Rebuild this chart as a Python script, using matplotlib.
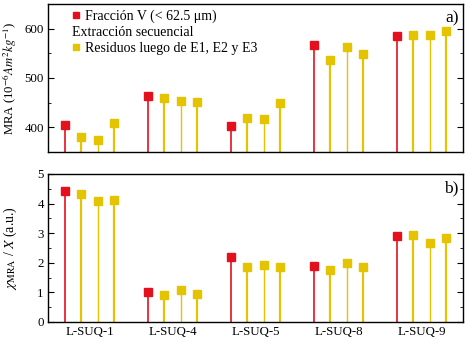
import numpy as np
import matplotlib
matplotlib.use("Agg")
import matplotlib.pyplot as plt
from matplotlib.lines import Line2D
from matplotlib.transforms import ScaledTranslation

plt.rcParams['font.family'] = ['Liberation Serif', 'DejaVu Serif']
plt.rcParams['mathtext.fontset'] = 'stix'

samples = ["L-SUQ-1", "L-SUQ-4", "L-SUQ-5", "L-SUQ-8", "L-SUQ-9"]
# MRA: [Fraccion V, E1, E2, E3]
mra_frac = [405, 464, 403, 566, 586]
mra_res = [[380, 374, 408],
           [459, 453, 451],
           [418, 416, 449],
           [537, 562, 549],
           [587, 588, 596]]
ratio_frac = [4.42, 1.01, 2.18, 1.90, 2.92]
ratio_res = [[4.32, 4.08, 4.13],
             [0.91, 1.08, 0.96],
             [1.86, 1.93, 1.86],
             [1.75, 1.99, 1.86],
             [2.94, 2.67, 2.84]]

RED = "#E5101E"
YEL = "#E4C300"
FS = 9.3
MS = 5.3

fig = plt.figure(figsize=(4.66, 3.42), dpi=100)
ax1 = fig.add_axes([48/466, 1-152/342, 415/466, 148/342])
ax2 = fig.add_axes([48/466, 1-322/342, 415/466, 148/342])

groups = np.arange(len(samples))
xf = groups * 5
xr = (groups * 5)[:, None] + np.arange(1, 4)[None, :]

res_lw = [1.6, 1.0, 1.6]

def draw(ax, frac, res, base):
    ax.vlines(xf, base, frac, color=RED, lw=1.2, zorder=2)
    res = np.asarray(res)
    for k in range(3):
        ax.vlines(xr[:, k], base, res[:, k], color=YEL, lw=res_lw[k], zorder=2)
    ax.plot(xf, frac, 's', color=RED, ms=MS, zorder=3, clip_on=False)
    ax.plot(xr.ravel(), res.ravel(), 's', color=YEL, ms=MS, zorder=3, clip_on=False)

draw(ax1, mra_frac, mra_res, 350)
draw(ax2, ratio_frac, ratio_res, 0)

for ax in (ax1, ax2):
    ax.set_xlim(-1, 24)
    ax.tick_params(axis='y', direction='in', which='both', left=True, right=True,
                   labelsize=FS, length=4, pad=3)
    ax.tick_params(axis='y', which='minor', length=2.5)
    ax.tick_params(axis='x', length=0, labelsize=FS, pad=3)
    for s in ax.spines.values():
        s.set_linewidth(1.0)

ax1.set_ylim(350, 650)
ax1.set_yticks([400, 500, 600])
ax1.set_yticks([350, 450, 550, 650], minor=True)
ax1.set_xticks([])
ax1.set_ylabel(r"MRA (10$^{-6}$$\mathit{Am}^2\mathit{kg}^{-1}$)", fontsize=9.2)
ax1.yaxis.set_label_coords(-0.071, 0.5)

ax2.set_ylim(0, 5)
ax2.set_yticks([0, 1, 2, 3, 4, 5])
ax2.set_yticks(np.arange(0.5, 5, 1.0), minor=True)
ax2.set_xticks(groups * 5 + 1.5)
ax2.set_xticklabels(samples)
ax2.set_ylabel(r"$\chi_{\mathrm{MRA}}$ / $X$ (a.u.)", fontsize=10)
ax2.yaxis.set_label_coords(-0.071, 0.5)

handles = [Line2D([], [], marker='s', color=RED, ls='none', ms=4.6),
           Line2D([], [], marker='none', ls='none'),
           Line2D([], [], marker='s', color=YEL, ls='none', ms=4.6)]
labels = ["Fracción V (< 62.5 μm)", "Extracción secuencial", "Residuos luego de E1, E2 y E3"]
HL, HTP = 0.55, 0.35
leg = ax1.legend(handles, labels, loc='upper left', bbox_to_anchor=(0.058, 0.96),
                 frameon=False, fontsize=10, handlelength=HL, handletextpad=HTP,
                 labelspacing=0.2, borderaxespad=0.0, borderpad=0.0)
# the middle entry has no marker: move its text back under the markers
mid = leg.get_texts()[1]
shift = -(HL + HTP) * 10 / 72.0
mid.set_transform(mid.get_transform() + ScaledTranslation(shift, 0, fig.dpi_scale_trans))

ax1.text(0.99, 0.955, "a)", transform=ax1.transAxes, ha='right', va='top', fontsize=12.5)
ax2.text(0.99, 0.955, "b)", transform=ax2.transAxes, ha='right', va='top', fontsize=12.5)

fig.savefig("out.png", dpi=100)
